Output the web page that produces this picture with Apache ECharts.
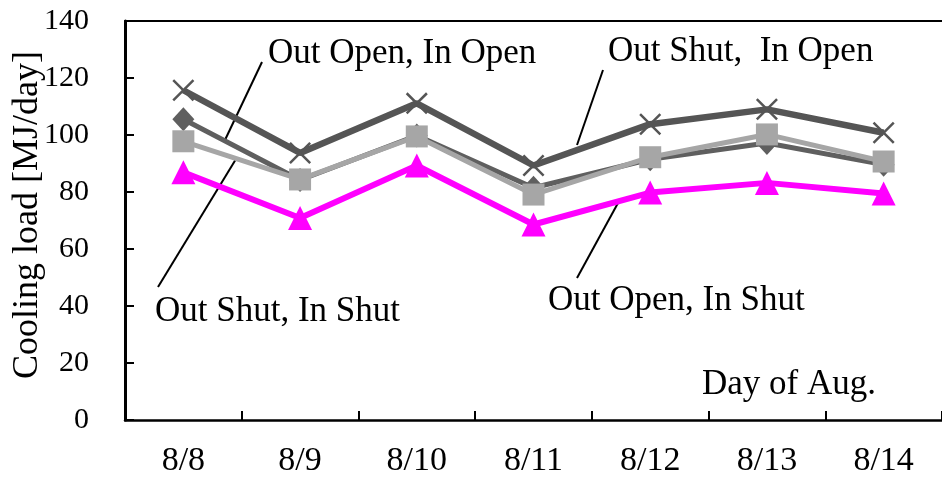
<!DOCTYPE html>
<html>
<head>
<meta charset="utf-8">
<script src="https://cdn.jsdelivr.net/npm/echarts@6/dist/echarts.min.js"></script>
<style>
html,body{margin:0;padding:0;background:#fff;}
#chart{width:942px;height:478px;}
</style>
</head>
<body>
<div id="chart"></div>
<script>
var categories = ['8/8','8/9','8/10','8/11','8/12','8/13','8/14'];
var yTicks = [0, 20, 40, 60, 80, 100, 120, 140];
var outShutInOpen = [115.7, 93.7, 111.1, 89.3, 103.8, 109.0, 100.8];
var outOpenInOpen = [105.5, 84.2, 99.8, 81.5, 91.5, 97.2, 89.6];
var outShutInShut = [97.8, 84.4, 99.5, 79.1, 92.2, 100.2, 90.7];
var outOpenInShut = [86.9, 70.9, 89.3, 68.6, 79.8, 83.2, 79.5];

var FONT = '"Liberation Serif", "Times New Roman", serif';
var chart = echarts.init(document.getElementById('chart'), null, {renderer: 'canvas'});
var crossPath = 'path://M0,0.8L0.8,0L10,9.2L9.2,10Z M9.2,0L10,0.8L0.8,10L0,9.2Z';

function annot(text, x, y) {
  return {type: 'text', style: {text: text, x: x, y: y, font: '35px ' + FONT, fill: '#000', align: 'left', verticalAlign: 'middle'}};
}
function lead(x1, y1, x2, y2) {
  return {type: 'line', shape: {x1: x1, y1: y1, x2: x2, y2: y2}, style: {stroke: '#000', lineWidth: 2}, z: 1};
}

chart.setOption({
  animation: false,
  backgroundColor: '#fff',
  grid: {left: 125, top: 21, width: 824, height: 399, containLabel: false},
  xAxis: [{
    type: 'category', data: categories, position: 'bottom', boundaryGap: true,
    axisLine: {show: true, lineStyle: {color: '#000', width: 2.5}},
    axisTick: {show: true, inside: true, length: 9, lineStyle: {color: '#000', width: 2}},
    axisLabel: {show: true, color: '#000', fontFamily: FONT, fontSize: 34, margin: 24},
    splitLine: {show: false}
  }, {
    type: 'category', data: categories, position: 'top',
    axisLine: {show: true, lineStyle: {color: '#000', width: 2}},
    axisTick: {show: false}, axisLabel: {show: false}, splitLine: {show: false}
  }],
  yAxis: {
    type: 'value', min: yTicks[0], max: yTicks[yTicks.length - 1], interval: 20,
    axisLine: {show: true, lineStyle: {color: '#000', width: 3}},
    axisTick: {show: true, inside: true, length: 9, lineStyle: {color: '#000', width: 2}},
    axisLabel: {color: '#000', fontFamily: FONT, fontSize: 30, margin: 36},
    splitLine: {show: false}
  },
  series: [{
    name: 'Out Open, In Shut', type: 'line', data: outOpenInShut,
    symbol: 'triangle', symbolSize: 24,
    lineStyle: {color: '#ff00ff', width: 6},
    itemStyle: {color: '#ff00ff'}, z: 2
  }, {
    name: 'Out Open, In Open', type: 'line', data: outOpenInOpen,
    symbol: 'diamond', symbolSize: [22, 24],
    lineStyle: {color: '#5f5f5f', width: 5},
    itemStyle: {color: '#5f5f5f'}, z: 3
  }, {
    name: 'Out Shut, In Shut', type: 'line', data: outShutInShut,
    symbol: 'rect', symbolSize: 22,
    lineStyle: {color: '#a6a6a6', width: 5},
    itemStyle: {color: '#a6a6a6'}, z: 4
  }, {
    name: 'Out Shut, In Open', type: 'line', data: outShutInOpen,
    symbol: crossPath, symbolSize: 22,
    lineStyle: {color: '#555555', width: 6.5},
    itemStyle: {color: '#555555'}, z: 5
  }],
  graphic: [
    {type: 'text', rotation: Math.PI / 2, x: 28, y: 215,
     style: {text: 'Cooling load [MJ/day]', font: '36px ' + FONT, fill: '#000', align: 'center', verticalAlign: 'middle'}},
    annot('Out Open, In Open', 268, 54),
    annot('Out Shut,  In Open', 608, 52),
    annot('Out Shut, In Shut', 155, 312),
    annot('Out Open, In Shut', 548, 301),
    annot('Day of Aug.', 702, 385),
    lead(262, 62, 225, 140),
    lead(158, 287, 236, 159),
    lead(603, 70, 577, 145),
    lead(618, 203, 577, 278)
  ]
});
</script>
</body>
</html>
